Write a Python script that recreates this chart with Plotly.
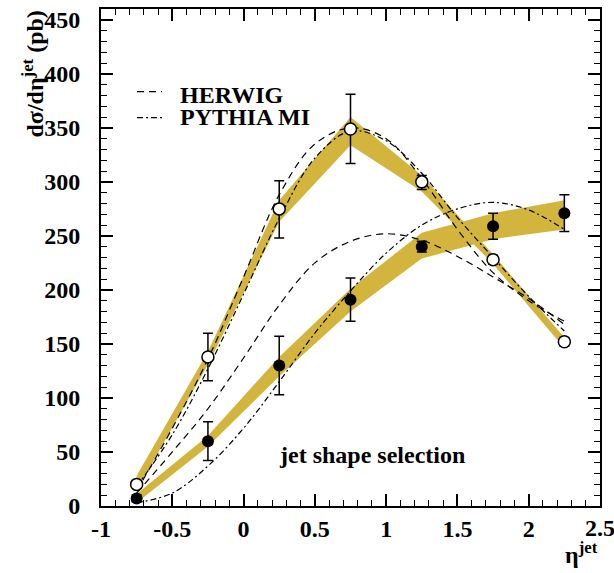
import plotly.graph_objects as go

# ---- data ----
eta = [-0.75, -0.25, 0.25, 0.75, 1.25, 1.75, 2.25]

open_y = [20, 138, 275, 349, 300, 228, 152]
open_err_up = [3, 22, 26, 32, 6, 4, 4]
open_err_dn = [3, 22, 27, 32, 7, 4, 4]
open_band_hi = [28, 143, 283, 360, 306, 233, 156]
open_band_lo = [14, 131, 263, 334, 291, 224, 146]

filled_y = [7, 60, 130, 191, 240, 259, 271]
filled_err_up = [3, 18, 27, 20, 5, 12, 17]
filled_err_dn = [3, 18, 27, 20, 5, 12, 17]
filled_band_hi = [11, 65, 138, 201, 253, 271, 283]
filled_band_lo = [3, 55, 120, 180, 229, 247, 256]

curve_x = [-0.75, -0.5, -0.25, 0.0, 0.25, 0.5, 0.75, 1.0, 1.25, 1.5, 1.75, 2.0, 2.25]
herwig_up = [14, 72, 136, 212, 288, 335, 350, 340, 303, 256, 216, 190, 171]
pythia_up = [18, 66, 127, 196, 266, 322, 347, 338, 308, 267, 230, 194, 162]
herwig_lo = [12, 50, 90, 137, 186, 225, 245, 252, 246, 231, 212, 192, 168]
pythia_lo = [3, 12, 37, 72, 115, 160, 199, 234, 260, 275, 281, 274, 256]

x_ticks = [-1, -0.5, 0, 0.5, 1, 1.5, 2, 2.5]
x_ticktext = ["-1", "-0.5", "0", "0.5", "1", "1.5", "2", "2.5"]
y_ticks = [0, 50, 100, 150, 200, 250, 300, 350, 400, 450]

GOLD = "#D3B53D"
FONT = "Liberation Serif"
HERWIG_DASH = "7px,5px"
PYTHIA_DASH = "6px,3px,2px,3px"

fig = go.Figure()

def band(lo, hi):
    return go.Scatter(x=eta + eta[::-1], y=hi + lo[::-1], fill="toself",
                      fillcolor=GOLD, line=dict(width=0), mode="lines",
                      hoverinfo="skip", showlegend=False)

fig.add_trace(band(open_band_lo, open_band_hi))
fig.add_trace(band(filled_band_lo, filled_band_hi))

for ys, dash in [(herwig_up, HERWIG_DASH), (pythia_up, PYTHIA_DASH),
                 (herwig_lo, HERWIG_DASH), (pythia_lo, PYTHIA_DASH)]:
    fig.add_trace(go.Scatter(x=curve_x, y=ys, mode="lines",
                             line=dict(color="black", width=1.2, dash=dash,
                                       shape="spline", smoothing=1.0),
                             showlegend=False))

fig.add_trace(go.Scatter(
    x=eta, y=filled_y, mode="markers",
    marker=dict(symbol="circle", size=12, color="black"),
    error_y=dict(type="data", array=filled_err_up, arrayminus=filled_err_dn,
                 color="black", thickness=1.5, width=5),
    showlegend=False))
fig.add_trace(go.Scatter(
    x=eta, y=open_y, mode="markers",
    marker=dict(symbol="circle", size=12, color="white",
                line=dict(color="black", width=1.5)),
    error_y=dict(type="data", array=open_err_up, arrayminus=open_err_dn,
                 color="black", thickness=1.5, width=5),
    showlegend=False))

tick_font = dict(family=FONT, size=24, color="black", weight="bold")
axis_common = dict(showline=True, linecolor="black", linewidth=2, mirror="ticks",
                   ticks="inside", ticklen=12, tickwidth=1.5, tickcolor="black",
                   showgrid=False, zeroline=False, tickfont=tick_font)

# last x label drawn separately (it is cut by the page edge in the reference)
x_ticktext_axis = x_ticktext[:-1] + [""]
fig.update_xaxes(range=[-1, 2.5], tickvals=x_ticks, ticktext=x_ticktext_axis,
                 ticklabelstandoff=0,
                 minor=dict(dtick=0.1, tick0=-1, ticks="inside", ticklen=6,
                            tickwidth=1.2, tickcolor="black"),
                 **axis_common)
fig.update_yaxes(range=[0, 460], tickvals=y_ticks, ticklabelstandoff=14,
                 minor=dict(dtick=10, tick0=0, ticks="inside", ticklen=6,
                            tickwidth=1.2, tickcolor="black"),
                 **axis_common)

fig.update_layout(
    width=614, height=573,
    margin=dict(l=101, r=14, t=7, b=67),
    plot_bgcolor="white", paper_bgcolor="white",
    font=dict(family=FONT, color="black"),
    showlegend=False,
)

fig.add_annotation(text=x_ticktext[-1], xref="x", yref="paper",
                   x=x_ticks[-1], y=(506 - 528) / 499,
                   xanchor="center", yanchor="middle", showarrow=False,
                   font=tick_font)

# legend-like labels
fig.add_shape(type="line", xref="paper", yref="paper",
              x0=(137 - 101) / 499, x1=(162 - 101) / 499,
              y0=(506 - 90) / 499, y1=(506 - 90) / 499,
              line=dict(color="black", width=1.2, dash=HERWIG_DASH))
fig.add_shape(type="line", xref="paper", yref="paper",
              x0=(137 - 101) / 499, x1=(162 - 101) / 499,
              y0=(506 - 116) / 499, y1=(506 - 116) / 499,
              line=dict(color="black", width=1.2, dash=PYTHIA_DASH))
for txt, ypx in [("HERWIG", 93), ("PYTHIA MI", 115)]:
    fig.add_annotation(text=txt, xref="paper", yref="paper",
                       x=(178 - 101) / 499, y=(506 - ypx) / 499,
                       xanchor="left", yanchor="middle", showarrow=False,
                       font=dict(family=FONT, size=24, color="black", weight="bold"))

fig.add_annotation(text="jet shape selection", xref="paper", yref="paper",
                   x=(372 - 101) / 499, y=(506 - 455) / 499,
                   xanchor="center", yanchor="middle", showarrow=False,
                   font=dict(family=FONT, size=24, color="black", weight="bold"))

fig.add_annotation(text="dσ/dη<sup>jet</sup> (pb)", xref="paper", yref="paper",
                   x=(32 - 101) / 499, y=1.0, textangle=-90,
                   xanchor="center", yanchor="top", showarrow=False,
                   font=dict(family=FONT, size=24, color="black", weight="bold"))

fig.add_annotation(text="η<sup>jet</sup>", xref="paper", yref="paper",
                   x=1.0, y=(506 - 553) / 499,
                   xanchor="right", yanchor="middle", showarrow=False,
                   font=dict(family=FONT, size=24, color="black", weight="bold"))

fig.write_html("out.html")
